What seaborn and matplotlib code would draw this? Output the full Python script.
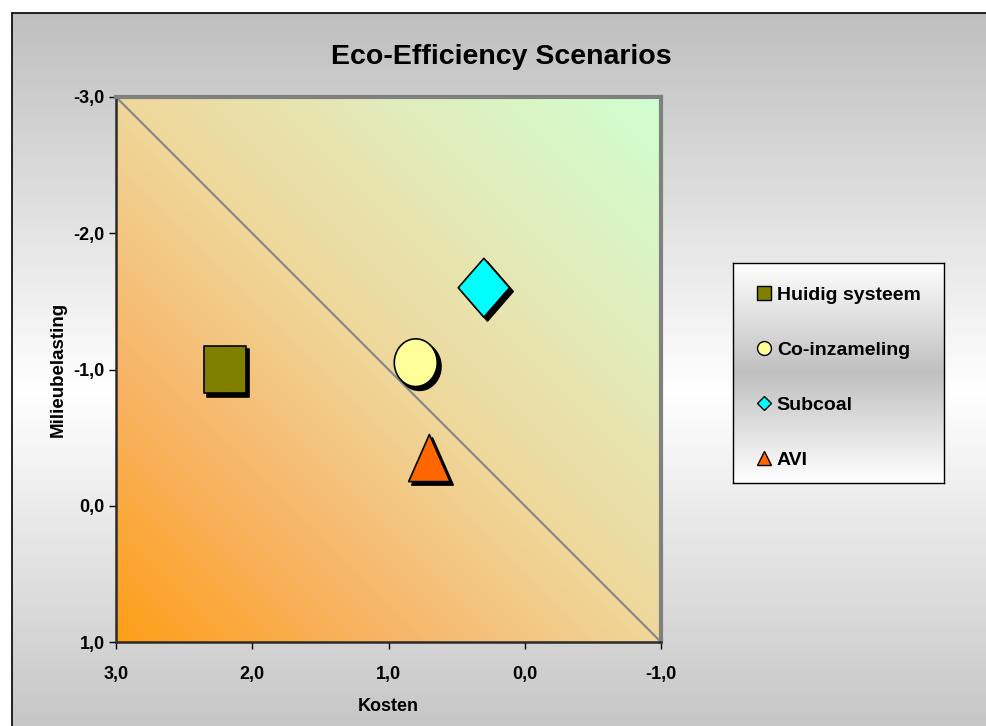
import numpy as np
import pandas as pd
import matplotlib
matplotlib.use("Agg")
import matplotlib.pyplot as plt
import matplotlib.transforms as mtransforms
from matplotlib.colors import LinearSegmentedColormap
from matplotlib.lines import Line2D
from matplotlib.path import Path
import seaborn as sns

# ---- data -------------------------------------------------------------
scenarios = ["Huidig systeem", "Co-inzameling", "Subcoal", "AVI"]
kosten = [2.2, 0.8, 0.3, 0.7]
milieubelasting = [-1.0, -1.05, -1.6, -0.35]
marker_colors = ["#808000", "#ffff99", "#00ffff", "#ff6600"]
x_ticks = [3.0, 2.0, 1.0, 0.0, -1.0]
y_ticks = [-3.0, -2.0, -1.0, 0.0, 1.0]
x_tick_labels = ["3,0", "2,0", "1,0", "0,0", "-1,0"]
y_tick_labels = ["-3,0", "-2,0", "-1,0", "0,0", "1,0"]

df = pd.DataFrame({"Scenario": scenarios,
                   "Kosten": kosten,
                   "Milieubelasting": milieubelasting})

# ---- marker shapes (slightly taller than wide) ---------------------------
theta = np.linspace(0, 2 * np.pi, 60)
shapes = {
    "Huidig systeem": Path([(-0.9, -1), (0.9, -1), (0.9, 1), (-0.9, 1), (-0.9, -1)], closed=True),
    "Co-inzameling": Path(np.column_stack([0.9 * np.cos(theta), np.sin(theta)]), closed=True),
    "Subcoal": Path([(0, 1), (0.87, 0), (0, -1), (-0.87, 0), (0, 1)], closed=True),
    "AVI": Path([(0, 1), (0.88, -1), (-0.88, -1), (0, 1)], closed=True),
}
marker_area = {"Huidig systeem": 1150, "Co-inzameling": 1180,
               "Subcoal": 1800, "AVI": 1150}
legend_shapes = {"Huidig systeem": "s", "Co-inzameling": "o",
                 "Subcoal": "D", "AVI": "^"}
legend_sizes = {"Huidig systeem": 9.5, "Co-inzameling": 10,
                "Subcoal": 7.5, "AVI": 10}

sns.set_theme(style="white")
plt.rcParams["font.family"] = ["Liberation Sans", "DejaVu Sans"]
plt.rcParams["font.weight"] = "bold"
plt.rcParams["text.color"] = "black"
plt.rcParams["axes.labelcolor"] = "black"
plt.rcParams["xtick.color"] = "black"
plt.rcParams["ytick.color"] = "black"

W, H = 986, 726
fig = plt.figure(figsize=(W / 100, H / 100), dpi=100)
fig.patch.set_facecolor("white")

# ---- chart-area background: grey -> white -> grey -------------------
bg = fig.add_axes([0, 0, 1, 1], zorder=-10)
bg.axis("off")
grey_cmap = LinearSegmentedColormap.from_list(
    "greyband", [(0.0, "#bfbfbf"), (0.5, "#ffffff"), (1.0, "#bfbfbf")])
band = np.linspace(0, 1, 256)[:, None]
bg.imshow(band, cmap=grey_cmap, extent=[12, W + 5, 770, 13], aspect="auto",
          interpolation="bilinear")
bg.plot([12, 12], [13, H + 5], color="black", lw=1.2)
bg.plot([12, W + 5], [13, 13], color="black", lw=1.2)
bg.set_xlim(0, W)
bg.set_ylim(H, 0)

# ---- plot area ----------------------------------------------------------
ax = fig.add_axes([116 / W, 84 / H, 545 / W, 545 / H])
plot_cmap = LinearSegmentedColormap.from_list(
    "ecofill", [(0.0, "#ff9e18"), (0.25, "#f8b466"), (0.5, "#efd79a"),
                (0.75, "#e2ecbc"), (1.0, "#d0ffd0")])
n = 300
u = np.linspace(0, 1, n)
v = np.linspace(1, 0, n)
fill = (u[None, :] + v[:, None]) / 2
ax.imshow(fill, cmap=plot_cmap, extent=[3, -1, 1, -3], aspect="auto",
          interpolation="bilinear", zorder=0)

# diagonal reference line from corner to corner
ax.plot([x_ticks[0], x_ticks[-1]], [y_ticks[0], y_ticks[-1]],
        color="#8a8a8a", lw=1.6, zorder=2)

# drop shadows
shadow_tf = mtransforms.offset_copy(ax.transData, fig=fig, x=3, y=-3, units="dots")
for name, xv, yv in zip(scenarios, kosten, milieubelasting):
    ax.scatter([xv], [yv], s=marker_area[name], marker=shapes[name],
               color="black", linewidths=1.2, edgecolors="black",
               transform=shadow_tf, zorder=3)

sns.scatterplot(data=df, x="Kosten", y="Milieubelasting",
                hue="Scenario", palette=dict(zip(scenarios, marker_colors)),
                style="Scenario", markers=shapes,
                size="Scenario", sizes=marker_area,
                edgecolor="black", linewidth=1.2, alpha=1,
                legend=False, ax=ax, zorder=4)

ax.set_xlim(3, -1)
ax.set_ylim(1, -3)
ax.set_xticks(x_ticks)
ax.set_xticklabels(x_tick_labels)
ax.set_yticks(y_ticks)
ax.set_yticklabels(y_tick_labels)
ax.tick_params(axis="x", direction="out", length=5, width=1, color="black",
               pad=12, labelsize=13, bottom=True, labelcolor="black")
ax.tick_params(axis="y", direction="out", length=5, width=1, color="black",
               pad=3, labelsize=13, left=True, labelcolor="black")
for lab in ax.get_xticklabels() + ax.get_yticklabels():
    lab.set_fontweight("bold")
ax.grid(False)

for side in ["top", "right"]:
    ax.spines[side].set_color("#808080")
    ax.spines[side].set_linewidth(3)
for side in ["left", "bottom"]:
    ax.spines[side].set_color("#2a2a2a")
    ax.spines[side].set_linewidth(1.8)

ax.set_xlabel("Kosten", fontsize=13, fontweight="bold", labelpad=11)
ax.set_ylabel("Milieubelasting", fontsize=13.5, fontweight="bold", labelpad=5)

fig.text(501 / W, 1 - 57 / H, "Eco-Efficiency Scenarios", fontsize=20.5,
         fontweight="bold", ha="center", va="center")

# ---- legend box ---------------------------------------------------------
lax = fig.add_axes([733 / W, (H - 483) / H, 211 / W, 220 / H], zorder=5)
lax.set_xlim(0, 1)
lax.set_ylim(0, 1)
lax.set_xticks([])
lax.set_yticks([])
legend_cmap = LinearSegmentedColormap.from_list(
    "legendband", [(0.0, "#ffffff"), (0.5, "#c0c0c0"), (1.0, "#ffffff")])
lax.imshow(band, cmap=legend_cmap, extent=[0, 1, 0, 1], aspect="auto",
           interpolation="bilinear")
for sp in lax.spines.values():
    sp.set_color("black")
    sp.set_linewidth(1)

handles = [Line2D([], [], linestyle="none", marker=legend_shapes[nm],
                  markersize=legend_sizes[nm], markerfacecolor=c,
                  markeredgecolor="black", markeredgewidth=1)
           for nm, c in zip(scenarios, marker_colors)]
lax.legend(handles, scenarios, loc="center", bbox_to_anchor=(0.5, 0.48),
           frameon=False, prop={"size": 14, "weight": "bold"},
           labelspacing=1.92, handlelength=0.8, handletextpad=0.25,
           borderaxespad=0, labelcolor="black")

fig.savefig("out.png", dpi=100)
